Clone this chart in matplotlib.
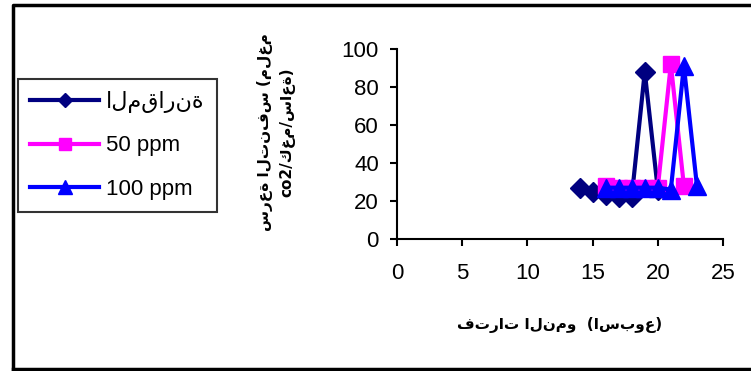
import matplotlib
matplotlib.use("Agg")
import matplotlib.pyplot as plt

plt.rcParams['font.family'] = ['Liberation Sans', 'DejaVu Sans']

# Data
x_control = [14, 15, 16, 17, 18, 19, 20]
y_control = [27, 25, 23, 22, 22, 88, 26]
x_50 = [16, 17, 18, 19, 20, 21, 22]
y_50 = [28, 27, 27, 27, 27, 92, 28]
x_100 = [16, 17, 18, 19, 20, 21, 22, 23]
y_100 = [27, 27, 27, 27, 27, 26, 91, 28]
labels = ["المقارنة", "50 ppm", "100 ppm"]
x_ticks = [0, 5, 10, 15, 20, 25]
y_ticks = [0, 20, 40, 60, 80, 100]
x_label = "فترات النمو  (اسبوع)"
y_label = "سرعة التنفس (ملغم\nco2/كغم/ساعة)"

W, H = 751, 371
fig = plt.figure(figsize=(W / 100, H / 100), dpi=100)

# outer frame
frame = fig.add_axes([0, 0, 1, 1], facecolor='none')
frame.set_xlim(0, W)
frame.set_ylim(H, 0)
frame.axis('off')
frame.plot([13, 13, 760], [369, 5, 5], color='black', lw=2.5, solid_capstyle='projecting')
frame.plot([13, 760], [369, 369], color='black', lw=2.5)

ax = fig.add_axes([397 / W, 1 - 239 / H, (723 - 397) / W, (239 - 49) / H])
ax.set_xlim(0, 25)
ax.set_ylim(0, 100)
ax.set_xticks(x_ticks)
ax.set_yticks(y_ticks)
ax.tick_params(labelsize=16, length=5, width=1.5, direction='out')
ax.tick_params(axis='x', pad=12)
ax.tick_params(axis='y', pad=8)
for s in ['top', 'right']:
    ax.spines[s].set_visible(False)
for s in ['left', 'bottom']:
    ax.spines[s].set_linewidth(1.5)
ax.patch.set_alpha(0)

l1, = ax.plot(x_control, y_control, color='#000080', lw=3, marker='D', ms=10, clip_on=False, label=labels[0], zorder=3)
l2, = ax.plot(x_50, y_50, color='#FF00FF', lw=3, marker='s', ms=11, clip_on=False, label=labels[1], zorder=4)
l3, = ax.plot(x_100, y_100, color='#0000FF', lw=3, marker='^', ms=13, clip_on=False, label=labels[2], zorder=5)

fig.text(560 / W, 1 - 325 / H, x_label, fontsize=11, fontweight='bold',
         ha='center', va='center', family=['DejaVu Sans'])
fig.text(276 / W, 1 - 132 / H, y_label, fontsize=11, fontweight='bold', rotation=90,
         ha='center', va='center', multialignment='center', linespacing=1.5,
         family=['DejaVu Sans'])

leg = fig.legend(handles=[l1, l2, l3], loc='upper left', bbox_to_anchor=(18 / W, 1 - 79 / H),
                 frameon=True, fancybox=False, edgecolor='black', markerscale=0.75,
                 handlelength=3.1, borderpad=0.55, labelspacing=1.0, handletextpad=0.3,
                 borderaxespad=0,
                 prop={'family': ['Liberation Sans', 'DejaVu Sans'], 'size': 16})
leg.get_frame().set_linewidth(1.5)

fig.savefig('out.png', dpi=100)
